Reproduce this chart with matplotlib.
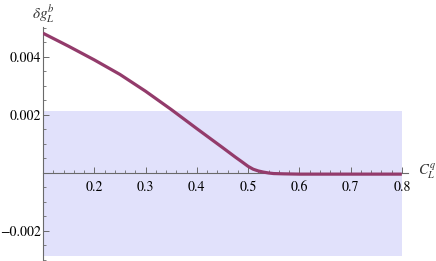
import matplotlib
matplotlib.use('Agg')
import matplotlib.pyplot as plt
from matplotlib.ticker import MultipleLocator, FixedLocator

plt.rcParams['font.family'] = ['STIXGeneral', 'DejaVu Serif']
plt.rcParams['mathtext.fontset'] = 'stix'

# curve values
cq = [0.10, 0.15, 0.20, 0.25, 0.30, 0.35, 0.40, 0.45, 0.475, 0.49,
      0.50, 0.51, 0.52, 0.53, 0.54, 0.55, 0.57, 0.60, 0.70, 0.80]
dg = [0.00481, 0.00436, 0.00389, 0.00339, 0.00281, 0.00218, 0.00152,
      0.00087, 0.00054, 0.00035, 0.00022, 0.00012, 0.00006, 0.00002,
      -0.00001, -0.00003, -0.00004, -0.00005, -0.00005, -0.00005]

# allowed band
band_x = [0.10, 0.80]
band_lo = -0.00286
band_hi = 0.00213

xticks = [0.2, 0.3, 0.4, 0.5, 0.6, 0.7, 0.8]
yticks = [-0.002, 0.0, 0.002, 0.004]
ylabels = ['\u22120.002', '', '0.002', '0.004']

fig = plt.figure(figsize=(4.36, 2.61), dpi=100)
ax = fig.add_axes([43 / 436, 0, (408 - 43) / 436, 234 / 261])

ax.fill_between(band_x, band_lo, band_hi, color='#e1e1fb', lw=0, zorder=0)
ax.plot(cq, dg, color='#933b6b', lw=2.3, solid_capstyle='butt',
        solid_joinstyle='round', zorder=3)

ax.set_xlim(0.1, 0.812)
ax.set_ylim(-0.003045, 0.005024)

for s in ['top', 'right']:
    ax.spines[s].set_visible(False)
ax.spines['bottom'].set_position(('data', 0))
ax.spines['left'].set_position(('data', 0.1))
for s in ['bottom', 'left']:
    ax.spines[s].set_color('#6a6a6a')
    ax.spines[s].set_linewidth(0.8)
    ax.spines[s].set_zorder(2)

ax.xaxis.set_major_locator(FixedLocator(xticks))
ax.xaxis.set_minor_locator(MultipleLocator(0.02))
ax.yaxis.set_major_locator(FixedLocator(yticks))
ax.yaxis.set_minor_locator(MultipleLocator(0.0005))
ax.set_xticklabels(['%.1f' % v for v in xticks])
ax.set_yticklabels(ylabels)

ax.tick_params(axis='x', which='major', direction='in', length=4, width=0.7,
               color='#6a6a6a', labelsize=10, pad=6)
ax.tick_params(axis='x', which='minor', direction='in', length=2.2, width=0.6,
               color='#6a6a6a')
ax.tick_params(axis='y', which='major', direction='in', length=4, width=0.7,
               color='#6a6a6a', labelsize=10, pad=1.5)
ax.tick_params(axis='y', which='minor', direction='in', length=2.2, width=0.6,
               color='#6a6a6a')
ax.patch.set_alpha(0)

fig.text(43 / 436, 1 - 14 / 261, r'$\delta g_L^b$', ha='center', va='center',
         fontsize=11, color='#333333')
fig.text(418 / 436, 1 - 172 / 261, r'$C_L^q$', ha='left', va='center',
         fontsize=10.5, color='#333333')

fig.savefig('out.png', dpi=100)
